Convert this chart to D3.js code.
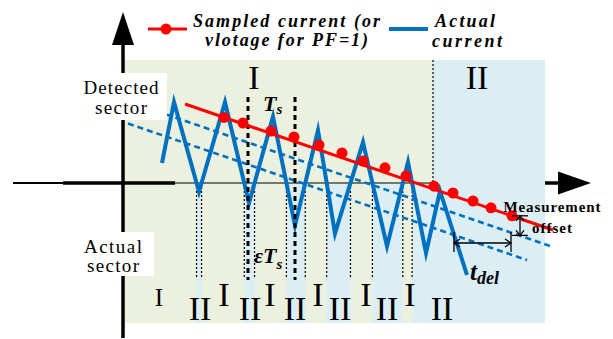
<!DOCTYPE html>
<html>
<head>
<meta charset="utf-8">
<script src="https://cdn.jsdelivr.net/npm/d3@7"></script>
<style>
  html, body { margin: 0; padding: 0; background: #ffffff; }
  svg { display: block; }
  svg text { font-family: "Liberation Serif", "Times New Roman", Times, serif; }
</style>
</head>
<body>
<svg id="chart" width="613" height="339"></svg>
<script>
// ---- data (time in arbitrary units, current in per-unit) ----
const timeDomain = [0, 92];
const currentDomain = [-2, 2];

// actual current: triangular ripple around the decaying reference
const waveTime    = [7.8, 10.2, 15.2, 20.4, 25.2, 30.0, 34.4, 39.0, 42.4, 48.0, 52.8, 57.0, 60.6, 63.4, 68.8];
const waveCurrent = [0.25, 1.01, -0.11, 1.01, -0.25, 0.83, -0.53, 0.66, -0.63, 0.51, -0.79, 0.26, -0.875, -0.10, -1.15];

// sampled current (or voltage for PF=1)
const sampledLineTime    = [12.4, 86.0];
const sampledLineCurrent = [0.9875, -0.5875];
const sampleTime    = [20.2, 24.0, 29.6, 34.2, 39.2, 43.8, 48.0, 52.4, 56.6, 62.2, 66.0, 70.0, 73.6, 77.8];
const sampleCurrent = [0.82, 0.75, 0.65, 0.575, 0.475, 0.375, 0.275, 0.19, 0.09, -0.04, -0.125, -0.225, -0.31, -0.41];

// offset boundary (sampled minus measurement offset) and its delayed copy (dashed)
const upperBoundTime    = [1.0, 85.8];
const upperBoundCurrent = [1.02, -0.795];
const lowerBoundTime    = [1.0, 80.8];
const lowerBoundCurrent = [0.744, -0.9625];

// detected sector regions
const regionEdges   = [0.2, 62.0, 84.4];
const regionNames   = ["I", "II"];
const regionCurrent = [1.5375, -1.75];

// sampling period markers
const tsTime = [25.0, 34.4];
const tsCurrent = [1.075, -1.2125];

// actual sector labels along the bottom
const actualSectorTime  = [7.2, 15.4, 20.2, 25.4, 29.4, 34.4, 39.0, 43.4, 48.6, 52.8, 57.4, 63.8];
const actualSectorLabel = ["I", "II", "I", "II", "I", "II", "I", "II", "I", "II", "I", "II"];

// annotations
const offsetMarkTime = 79.4;
const offsetMarkCurrent = [-0.41, -0.655];
const delayMarkTime = [66.2, 77.6];
const delayMarkCurrent = -0.75;
const delayTickCurrent = [-0.6125, -0.8625];

// ---- scales ----
const x = d3.scaleLinear().domain(timeDomain).range([123, 583]);
const y = d3.scaleLinear().domain(currentDomain).range([343, 23]);

const GREEN = "#ebf1de", BLUE_BG = "#daeef3", RED = "#ff0000", BLUE = "#0070c0";

const svg = d3.select("#chart");

// region backgrounds
svg.append("rect")
  .attr("x", x(regionEdges[0])).attr("y", y(regionCurrent[0]))
  .attr("width", x(regionEdges[1]) - x(regionEdges[0]))
  .attr("height", y(regionCurrent[1]) - y(regionCurrent[0]))
  .attr("fill", GREEN);
svg.append("rect")
  .attr("x", x(regionEdges[1])).attr("y", y(regionCurrent[0]))
  .attr("width", x(regionEdges[2]) - x(regionEdges[1]))
  .attr("height", y(regionCurrent[1]) - y(regionCurrent[0]))
  .attr("fill", BLUE_BG);

// zero crossings of the actual current -> intervals where it is negative
const wave = waveTime.map((t, i) => ({ t, c: waveCurrent[i] }));
const crossings = [];
for (let i = 0; i < wave.length - 1; i++) {
  const a = wave[i], b = wave[i + 1];
  if ((a.c > 0) !== (b.c > 0)) {
    const tc = a.t + (b.t - a.t) * (a.c / (a.c - b.c));
    crossings.push({ t: tc, down: a.c > 0 });
  }
}
const negIntervals = [];
let start = null;
crossings.forEach(cr => {
  if (cr.down) start = cr.t;
  else if (start !== null) { negIntervals.push([start, cr.t]); start = null; }
});
if (start !== null) negIntervals.push([start, regionEdges[1]]);

svg.append("g").selectAll("rect").data(negIntervals).join("rect")
  .attr("x", d => x(d[0])).attr("y", y(0))
  .attr("width", d => x(d[1]) - x(d[0]))
  .attr("height", y(regionCurrent[1]) - y(0))
  .attr("fill", BLUE_BG);

// dotted drop lines at the crossings
svg.append("g").selectAll("line").data(crossings).join("line")
  .attr("x1", d => x(d.t)).attr("x2", d => x(d.t))
  .attr("y1", y(0)).attr("y2", y(-1.19))
  .attr("stroke", "#000").attr("stroke-width", 1.2)
  .attr("stroke-dasharray", "2,2");

// region divider
svg.append("line")
  .attr("x1", x(regionEdges[1])).attr("x2", x(regionEdges[1]))
  .attr("y1", y(regionCurrent[0])).attr("y2", y(0))
  .attr("stroke", "#000").attr("stroke-width", 1.2)
  .attr("stroke-dasharray", "2,2");

// horizontal time axis
svg.append("line").attr("x1", 13).attr("x2", x(regionEdges[1])).attr("y1", y(0)).attr("y2", y(0))
  .attr("stroke", "#000").attr("stroke-width", 1.2);
svg.append("line").attr("x1", 13).attr("x2", 63).attr("y1", y(0)).attr("y2", y(0))
  .attr("stroke", "#000").attr("stroke-width", 2);
svg.append("line").attr("x1", 63).attr("x2", 175).attr("y1", y(0)).attr("y2", y(0))
  .attr("stroke", "#000").attr("stroke-width", 3.5);
svg.append("line").attr("x1", 545).attr("x2", 560).attr("y1", y(0)).attr("y2", y(0))
  .attr("stroke", "#000").attr("stroke-width", 3.5);
svg.append("path")
  .attr("d", `M558,${y(0) - 11.5} L591,${y(0)} L558,${y(0) + 11.5} Z`)
  .attr("fill", "#000");

// dashed offset boundaries
const lineGen = d3.line().x(d => x(d[0])).y(d => y(d[1]));
[[upperBoundTime, upperBoundCurrent], [lowerBoundTime, lowerBoundCurrent]].forEach(([ts, cs]) => {
  svg.append("path")
    .attr("d", lineGen(ts.map((t, i) => [t, cs[i]])))
    .attr("fill", "none").attr("stroke", BLUE).attr("stroke-width", 2.6)
    .attr("stroke-dasharray", "6,4");
});

// actual current ripple
svg.append("path")
  .attr("d", lineGen(wave.map(d => [d.t, d.c])))
  .attr("fill", "none").attr("stroke", BLUE).attr("stroke-width", 4)
  .attr("stroke-linejoin", "miter").attr("stroke-miterlimit", 10);

// sampling period markers
svg.append("g").selectAll("line").data(tsTime).join("line")
  .attr("x1", d => x(d)).attr("x2", d => x(d))
  .attr("y1", y(tsCurrent[0])).attr("y2", y(tsCurrent[1]))
  .attr("stroke", "#000").attr("stroke-width", 3)
  .attr("stroke-dasharray", "5,4");

// sampled current line and samples
svg.append("path")
  .attr("d", lineGen(sampledLineTime.map((t, i) => [t, sampledLineCurrent[i]])))
  .attr("fill", "none").attr("stroke", RED).attr("stroke-width", 3);
svg.append("g").selectAll("circle").data(sampleTime).join("circle")
  .attr("cx", d => x(d)).attr("cy", (d, i) => y(sampleCurrent[i]))
  .attr("r", 5.5).attr("fill", RED);

// vertical axis with arrow
svg.append("line").attr("x1", 123).attr("x2", 123).attr("y1", 44).attr("y2", 338)
  .attr("stroke", "#000").attr("stroke-width", 3.5);
svg.append("path").attr("d", "M112,45 L123,12 L134,45 Z").attr("fill", "#000");

// axis captions on white boxes
function caption(lines, box, baseY, widths) {
  svg.append("rect").attr("x", box[0]).attr("y", box[1]).attr("width", box[2]).attr("height", box[3])
    .attr("fill", "#fff");
  lines.forEach((s, i) => {
    svg.append("text").attr("x", box[0] + box[2] / 2).attr("y", baseY[i])
      .attr("text-anchor", "middle").attr("font-size", 19)
      .attr("textLength", widths[i]).attr("lengthAdjust", "spacing")
      .attr("fill", "#000").text(s);
  });
}
caption(["Detected", "sector"], [75, 73, 92, 47], [94, 114], [75, 52]);
caption(["Actual", "sector"], [72, 232, 82, 44], [253, 272], [58, 52]);

// region names
regionNames.forEach((n, i) => {
  svg.append("text")
    .attr("x", i === 0 ? 254 : 477).attr("y", 89)
    .attr("text-anchor", "middle").attr("font-size", 34)
    .attr("fill", "#000").text(n);
});

// actual sector labels
svg.append("g").selectAll("text").data(actualSectorTime).join("text")
  .attr("x", d => x(d))
  .attr("y", (d, i) => actualSectorLabel[i] === "I" ? 306 : 320)
  .attr("text-anchor", "middle")
  .attr("font-size", (d, i) => i === 0 ? 25 : 34)
  .attr("fill", "#000")
  .text((d, i) => actualSectorLabel[i]);

// Ts, εTs and t_del labels
function subLabel(px, py, main, sub, size, subSize, subDy) {
  const t = svg.append("text").attr("x", px).attr("y", py)
    .attr("font-weight", "bold").attr("font-style", "italic")
    .attr("font-size", size).attr("fill", "#000");
  t.append("tspan").text(main);
  t.append("tspan").attr("dy", subDy).attr("font-size", subSize).text(sub);
}
subLabel(263, 111, "T", "s", 22, 15, 3);
subLabel(254, 263, "εT", "s", 22, 15, 6);
subLabel(470, 280, "t", "del", 25, 18, 4);

// measurement offset marker
const mx = x(offsetMarkTime);
const my0 = y(offsetMarkCurrent[0]), my1 = y(offsetMarkCurrent[1]);
const ann = svg.append("g").attr("stroke", "#000").attr("stroke-width", 1.3).attr("fill", "none");
ann.append("line").attr("x1", mx - 8).attr("x2", mx + 8).attr("y1", my0).attr("y2", my0);
ann.append("line").attr("x1", mx - 8).attr("x2", mx + 8).attr("y1", my1).attr("y2", my1);
ann.append("line").attr("x1", mx).attr("x2", mx).attr("y1", my0).attr("y2", my1);
ann.append("path").attr("d", `M${mx - 4},${my0 + 5} L${mx},${my0} L${mx + 4},${my0 + 5}`);
ann.append("path").attr("d", `M${mx - 4},${my1 - 5} L${mx},${my1} L${mx + 4},${my1 - 5}`);

// delay marker
const dx0 = x(delayMarkTime[0]), dx1 = x(delayMarkTime[1]), dy = y(delayMarkCurrent);
ann.append("line").attr("x1", dx0).attr("x2", dx1).attr("y1", dy).attr("y2", dy);
[dx0, dx1].forEach(px => ann.append("line").attr("x1", px).attr("x2", px)
  .attr("y1", y(delayTickCurrent[0])).attr("y2", y(delayTickCurrent[1])));
ann.append("path").attr("d", `M${dx0 + 6},${dy - 4} L${dx0},${dy} L${dx0 + 6},${dy + 4}`);
ann.append("path").attr("d", `M${dx1 - 6},${dy - 4} L${dx1},${dy} L${dx1 - 6},${dy + 4}`);

svg.append("text").attr("x", 552).attr("y", 212).attr("text-anchor", "middle")
  .attr("font-weight", "bold").attr("font-size", 15)
  .attr("textLength", 97).attr("lengthAdjust", "spacing").text("Measurement");
svg.append("text").attr("x", 552).attr("y", 233).attr("text-anchor", "middle")
  .attr("font-weight", "bold").attr("font-size", 15)
  .attr("textLength", 40).attr("lengthAdjust", "spacing").text("offset");

// legend
const legend = svg.append("g");
legend.append("line").attr("x1", 148).attr("x2", 187).attr("y1", 29).attr("y2", 29)
  .attr("stroke", RED).attr("stroke-width", 3);
legend.append("circle").attr("cx", 166).attr("cy", 29).attr("r", 5.5).attr("fill", RED);
legend.append("line").attr("x1", 389).attr("x2", 428).attr("y1", 29).attr("y2", 29)
  .attr("stroke", BLUE).attr("stroke-width", 4);
const legendText = [
  ["Sampled current (or", 286.5, 27, 187],
  ["vlotage for PF=1)", 286.5, 46, 163],
  ["Actual", 465, 27, 60],
  ["current", 467, 47, 70]
];
legend.selectAll("text").data(legendText).join("text")
  .attr("x", d => d[1]).attr("y", d => d[2]).attr("text-anchor", "middle")
  .attr("font-weight", "bold").attr("font-style", "italic")
  .attr("font-size", 18).attr("textLength", d => d[3]).attr("lengthAdjust", "spacing")
  .text(d => d[0]);
</script>
</body>
</html>
